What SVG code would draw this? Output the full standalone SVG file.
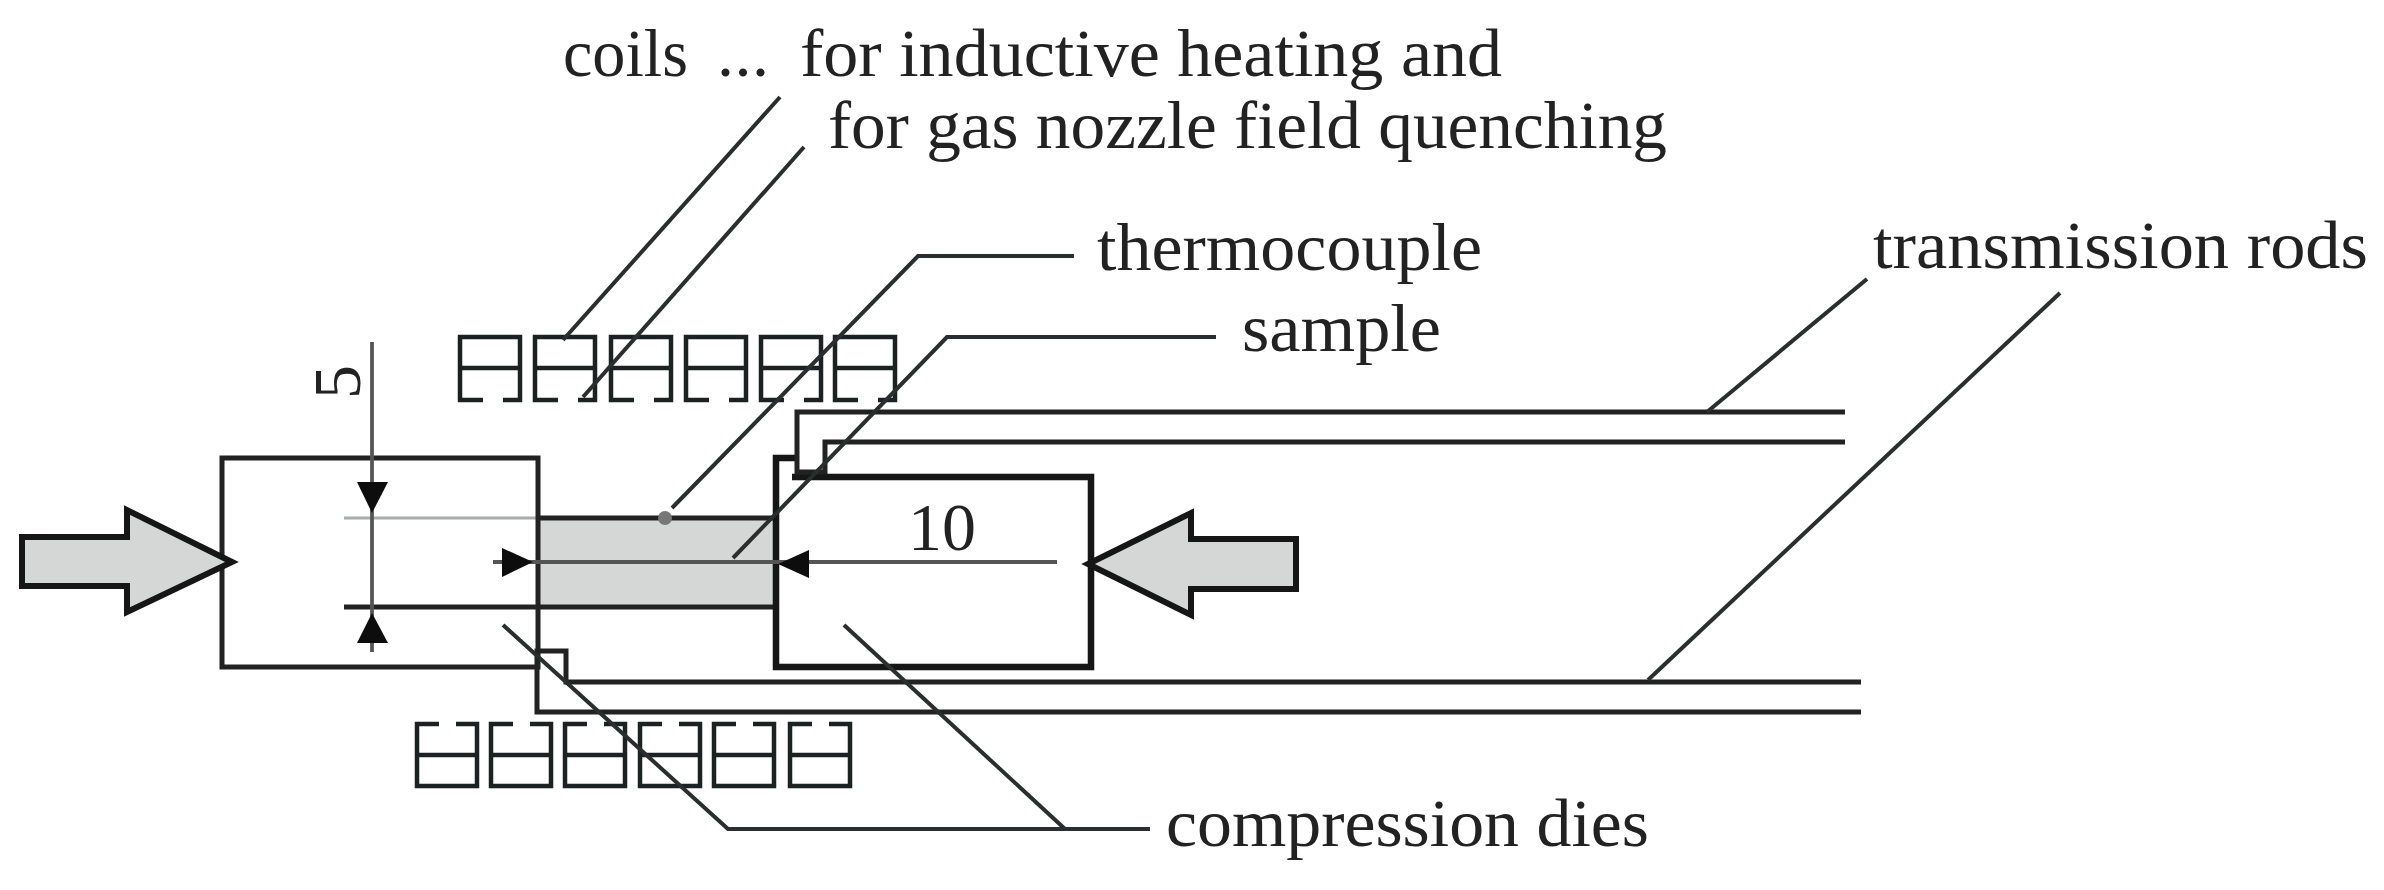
<svg xmlns="http://www.w3.org/2000/svg" xmlns:xlink="http://www.w3.org/1999/xlink" width="2384" height="890" viewBox="0 0 2384 890">
<style>
.l{fill:none;stroke:#222424;stroke-width:5;stroke-linejoin:miter}
.b{fill:none;stroke:#141616;stroke-width:6.5}
.t{fill:none;stroke:#2b2d2d;stroke-width:4}
.c{fill:none;stroke:#1f2121;stroke-width:4.5}
.g{fill:none;stroke:#a9acac;stroke-width:3}
.m{fill:none;stroke:#555;stroke-width:3.8}
.a{fill:#d5d7d7;stroke:#141616;stroke-width:6;stroke-linejoin:miter}
.h{fill:#111;stroke:none}
.s{filter:url(#soft)}
text{font-family:"Liberation Serif","Times New Roman",serif;font-size:68px;fill:#222}
</style>
<defs>
<filter id="soft" x="-5%" y="-5%" width="110%" height="110%"><feGaussianBlur stdDeviation="0.7"/></filter>
<path id="coilTop" class="c" d="M23 63H0V0H60V63H43M0 31H60"/>
<path id="coilBottom" class="c" d="M22 0H0V62H60V0H39M0 31H60"/>
</defs>
<rect width="2384" height="890" fill="#fff"/>
<g id="sample" class="s">
<rect x="538" y="518" width="238" height="89" fill="#d5d7d7"/>
<path class="l" d="M538 518H776"/>
<path class="l" d="M344 607H776"/>
<path class="g" d="M344 518H538"/>
<circle cx="665" cy="518" r="7" fill="#777"/>
</g>
<g id="left-die" class="s"><rect class="l" x="222" y="458" width="316" height="209"/></g>
<g id="right-die" class="s"><path class="b" d="M792 477H1091V667H776V458H797"/></g>
<g id="upper-rod" class="s"><path class="l" d="M1845 412H797V472H825V442H1845"/></g>
<g id="lower-rod" class="s"><path class="l" d="M1861 712H537V651H566V682H1861"/></g>
<g id="coils-top" class="s">
<use xlink:href="#coilTop" href="#coilTop" x="460" y="337"/>
<use xlink:href="#coilTop" href="#coilTop" x="535" y="337"/>
<use xlink:href="#coilTop" href="#coilTop" x="611" y="337"/>
<use xlink:href="#coilTop" href="#coilTop" x="686" y="337"/>
<use xlink:href="#coilTop" href="#coilTop" x="761" y="337"/>
<use xlink:href="#coilTop" href="#coilTop" x="835" y="337"/>
</g>
<g id="coils-bottom" class="s">
<use xlink:href="#coilBottom" href="#coilBottom" x="417" y="724"/>
<use xlink:href="#coilBottom" href="#coilBottom" x="491" y="724"/>
<use xlink:href="#coilBottom" href="#coilBottom" x="565" y="724"/>
<use xlink:href="#coilBottom" href="#coilBottom" x="640" y="724"/>
<use xlink:href="#coilBottom" href="#coilBottom" x="714" y="724"/>
<use xlink:href="#coilBottom" href="#coilBottom" x="790" y="724"/>
</g>
<g id="force-left" class="s"><path class="a" d="M22 537H127V510L232 562L127 612V586H22Z"/></g>
<g id="force-right" class="s"><path class="a" d="M1296 539H1191V513L1088 564L1191 615V589H1296Z"/></g>
<g id="connectors" class="s">
<path class="t" d="M780 97L563 340"/>
<path class="t" d="M804 147L583 397"/>
<path class="t" d="M1074 256H918L672 508"/>
<path class="t" d="M1216 337H947L733 558"/>
<path class="t" d="M1867 279L1707 412"/>
<path class="t" d="M2060 293L1648 680"/>
<path class="t" d="M503 625L728 829H1150"/>
<path class="t" d="M844 625L1065 829"/>
</g>
<g id="dimensions" class="s">
<path class="m" d="M372 342V652"/>
<path class="h" d="M357 482H388L372 513Z"/>
<path class="h" d="M372 613L388 643H357Z"/>
<path class="m" d="M493 562H1057"/>
<path class="h" d="M533 562L502 548V577Z"/>
<path class="h" d="M778 564L809 550V578Z"/>
</g>
<g id="labels" class="s">
<text y="76"><tspan x="563" textLength="125" lengthAdjust="spacingAndGlyphs">coils</tspan> <tspan x="717" textLength="52" lengthAdjust="spacing">...</tspan> <tspan x="800" textLength="702" lengthAdjust="spacingAndGlyphs">for inductive heating and</tspan></text>
<text x="828" y="148" textLength="839" lengthAdjust="spacingAndGlyphs">for gas nozzle field quenching</text>
<text x="1097" y="270" textLength="385" lengthAdjust="spacingAndGlyphs">thermocouple</text>
<text x="1242" y="351" textLength="199" lengthAdjust="spacingAndGlyphs">sample</text>
<text x="1873" y="268" textLength="495" lengthAdjust="spacingAndGlyphs">transmission rods</text>
<text x="1166" y="846" textLength="483" lengthAdjust="spacingAndGlyphs">compression dies</text>
<text x="908" y="550">10</text>
<text transform="translate(360 399) rotate(-90)">5</text>
</g>
</svg>
